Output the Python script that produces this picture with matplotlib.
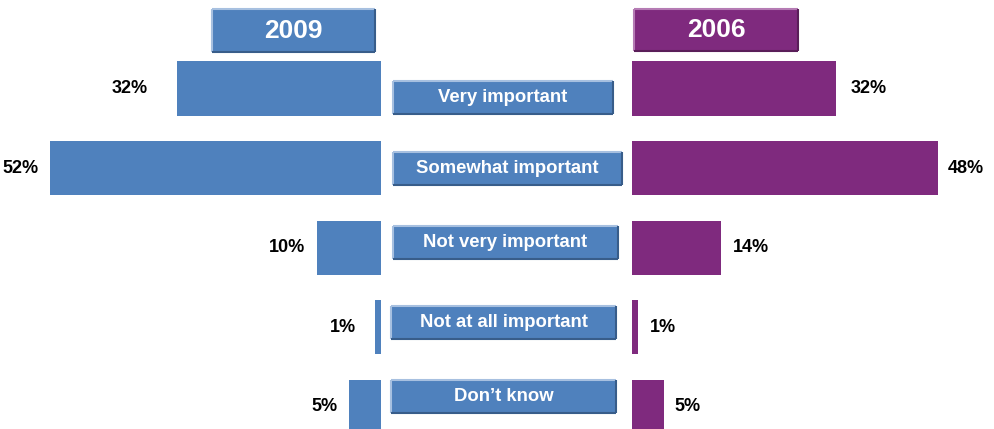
import matplotlib
matplotlib.use("Agg")
import matplotlib.pyplot as plt
from matplotlib.patches import Rectangle

# data
categories = ["Very important", "Somewhat important", "Not very important",
              "Not at all important", "Don\u2019t know"]
vals_2009 = [32, 52, 10, 1, 5]
vals_2006 = [32, 48, 14, 1, 5]
years = ["2009", "2006"]

# colours
blue = "#4F81BD"
blue_light = "#A7C0E0"
blue_dark = "#385D8A"
purple = "#7F2A7E"
purple_light = "#B57BB4"
purple_dark = "#5A1E59"

W, H = 994, 429
px = 6.37          # pixels per percent
row0, pitch = 88.5, 79.6
ytop, ybot = -row0 / pitch, (H - row0) / pitch

# layout tweaks (pixels)
left_gap = [29, 11, 12, 19, 12]
right_gap = [15, 10, 12, 12, 11]
box_dy = [8.5, 0, -5, -5, -10.5]
box_x0 = [12, 12, 12, 10, 10]
box_x1 = [232, 241, 237, 235, 235]
box_h = 33

fig = plt.figure(figsize=(W / 100, H / 100), dpi=100)

axL = fig.add_axes([0, 0, 381 / W, 1])
axR = fig.add_axes([632 / W, 0, (W - 632) / W, 1])
axC = fig.add_axes([381 / W, 0, (632 - 381) / W, 1])
axO = fig.add_axes([0, 0, 1, 1])

axL.set_xlim(381 / px, 0)
axR.set_xlim(0, (W - 632) / px)
axC.set_xlim(0, 632 - 381)
axO.set_xlim(0, W)
axO.set_ylim(H, 0)
for ax in (axL, axR, axC):
    ax.set_ylim(ybot, ytop)
for ax in (axL, axR, axC, axO):
    ax.axis("off")
    ax.patch.set_alpha(0)

pct_font = dict(family=["Liberation Sans", "DejaVu Sans"],
                fontweight="bold", fontsize=13, color="black")

ys = list(range(len(categories)))
axL.barh(ys, vals_2009, height=0.68, color=blue)
axR.barh(ys, vals_2006, height=0.68, color=purple)

for i, v in enumerate(vals_2009):
    axL.text(v + left_gap[i] / px, i, f"{v}%", ha="right", va="center", **pct_font)
for i, v in enumerate(vals_2006):
    axR.text(v + right_gap[i] / px, i, f"{v}%", ha="left", va="center", **pct_font)


def box(ax, x0, y0, x1, y1, face, light, dark, label, size):
    # y0 is the top edge (axes are inverted)
    ax.add_patch(Rectangle((x0, y0), x1 - x0, y1 - y0, facecolor=face,
                           edgecolor="none"))
    ax.plot([x0, x1], [y0, y0], color=light, lw=1.5, solid_capstyle="butt")
    ax.plot([x0, x0], [y0, y1], color=light, lw=1.5, solid_capstyle="butt")
    ax.plot([x0, x1], [y1, y1], color=dark, lw=1.5, solid_capstyle="butt")
    ax.plot([x1, x1], [y0, y1], color=dark, lw=1.5, solid_capstyle="butt")
    ax.text((x0 + x1) / 2, (y0 + y1) / 2, label, ha="center", va="center",
            color="white", fontweight="bold", fontsize=size,
            family=["Liberation Sans", "DejaVu Sans"])


# category boxes in the middle
for i, cat in enumerate(categories):
    yc = i + box_dy[i] / pitch
    hh = box_h / 2 / pitch
    box(axC, box_x0[i], yc - hh, box_x1[i], yc + hh,
        blue, blue_light, blue_dark, cat, 13.3)

# year headers
box(axO, 212, 9, 375, 52, blue, blue_light, blue_dark, years[0], 19)
box(axO, 634, 9, 798, 51, purple, purple_light, purple_dark, years[1], 19)

fig.savefig("out.png", dpi=100)
